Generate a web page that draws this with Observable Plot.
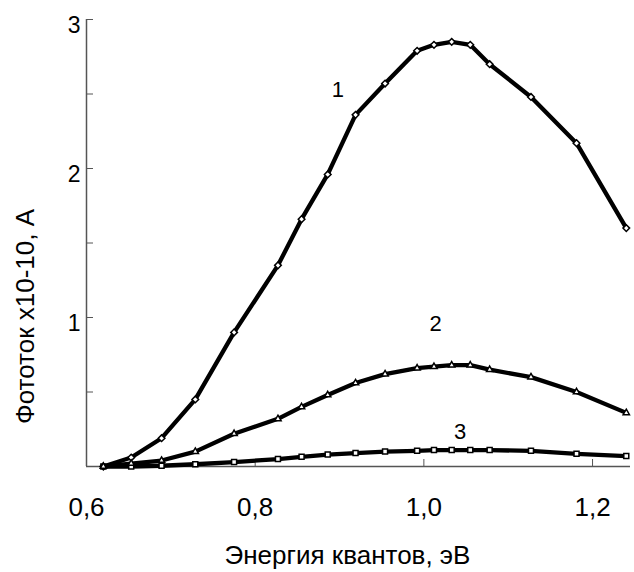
<!DOCTYPE html>
<html>
<head>
<meta charset="utf-8">
<script src="https://cdn.jsdelivr.net/npm/d3@7"></script>
<script src="https://cdn.jsdelivr.net/npm/@observablehq/plot@0.6"></script>
<style>
  body { margin: 0; background: #fff; }
  svg { font-family: "Liberation Sans", Arial, sans-serif; }
</style>
</head>
<body>
<div id="chart"></div>
<script>
// Photon energy, eV
const energy = [0.62, 0.653, 0.689, 0.729, 0.775, 0.827, 0.855, 0.886, 0.919, 0.954, 0.992, 1.012, 1.033, 1.055, 1.078, 1.127, 1.181, 1.24];
// Photocurrent x10^-10 A, curves 1, 2, 3
const curve1 = [0, 0.06, 0.19, 0.45, 0.90, 1.35, 1.66, 1.96, 2.36, 2.57, 2.79, 2.83, 2.85, 2.83, 2.70, 2.48, 2.17, 1.60];
const curve2 = [0, 0.02, 0.04, 0.10, 0.22, 0.32, 0.40, 0.48, 0.56, 0.62, 0.66, 0.67, 0.68, 0.68, 0.65, 0.60, 0.50, 0.36];
const curve3 = [0, 0, 0.005, 0.015, 0.03, 0.05, 0.065, 0.08, 0.09, 0.10, 0.105, 0.11, 0.11, 0.11, 0.11, 0.105, 0.085, 0.07];
const curveNames = ["1", "2", "3"];
const symbols = ["diamond2", "triangle2", "square2"];
const curveLabels = [
  {name: "1", x: 0.898, y: 2.53},
  {name: "2", x: 1.014, y: 0.96},
  {name: "3", x: 1.043, y: 0.235}
];
const xTicks = [0.6, 0.8, 1.0, 1.2];
const yTicks = [0.5, 1, 1.5, 2, 2.5, 3];
const yLabelTicks = [1, 2, 3];
const xTitle = "Энергия квантов, эВ";
const yTitle = "Фототок x10-10, А";

const rows = [];
[curve1, curve2, curve3].forEach((vals, i) => {
  vals.forEach((v, j) => rows.push({curve: curveNames[i], symbol: symbols[i], E: energy[j], I: v}));
});

const chart = Plot.plot({
  width: 634,
  height: 572,
  marginLeft: 86,
  marginRight: 4,
  marginTop: 19,
  marginBottom: 106,
  style: {fontFamily: "Liberation Sans, Arial, sans-serif", background: "#fff", color: "#000"},
  x: {domain: [0.6, 1.245]},
  y: {domain: [0, 3]},
  symbol: {type: "identity"},
  marks: [
    Plot.axisX({ticks: xTicks, tickSize: 7, dy: -7, tickPadding: 31, fontSize: 26, stroke: "#555", tickFormat: d => d.toFixed(1).replace(".", ","), label: null}),
    Plot.axisY({ticks: yTicks, tickSize: 7, dx: 7, stroke: "#555", tickFormat: () => "", label: null}),
    Plot.axisY({ticks: yLabelTicks, tickSize: 0, tickPadding: 6, dy: 6, fontSize: 23, tickFormat: d => String(d), label: null}),
    Plot.ruleX([0.6], {stroke: "#555", strokeWidth: 1.5}),
    Plot.ruleY([0], {stroke: "#555", strokeWidth: 1.5}),
    Plot.line(rows, {x: "E", y: "I", z: "curve", stroke: "#000", strokeWidth: 4.3, strokeLinejoin: "round"}),
    Plot.dot(rows, {x: "E", y: "I", symbol: d => d.symbol, r: d => d.symbol === "square2" ? 5.6 : 5, fill: "#fff", stroke: "#000", strokeWidth: 1.5}),
    Plot.text(curveLabels, {x: "x", y: "y", text: "name", fontSize: 22, fill: "#000"}),
    Plot.text([xTitle], {frameAnchor: "bottom", textAnchor: "middle", lineAnchor: "middle", dx: -11, dy: 89.5, fontSize: 26, fill: "#000"}),
    Plot.text([yTitle], {frameAnchor: "left", textAnchor: "middle", lineAnchor: "middle", dx: -61, dy: 73.5, rotate: -90, fontSize: 26, fill: "#000"})
  ]
});
document.getElementById("chart").appendChild(chart);
</script>
</body>
</html>
